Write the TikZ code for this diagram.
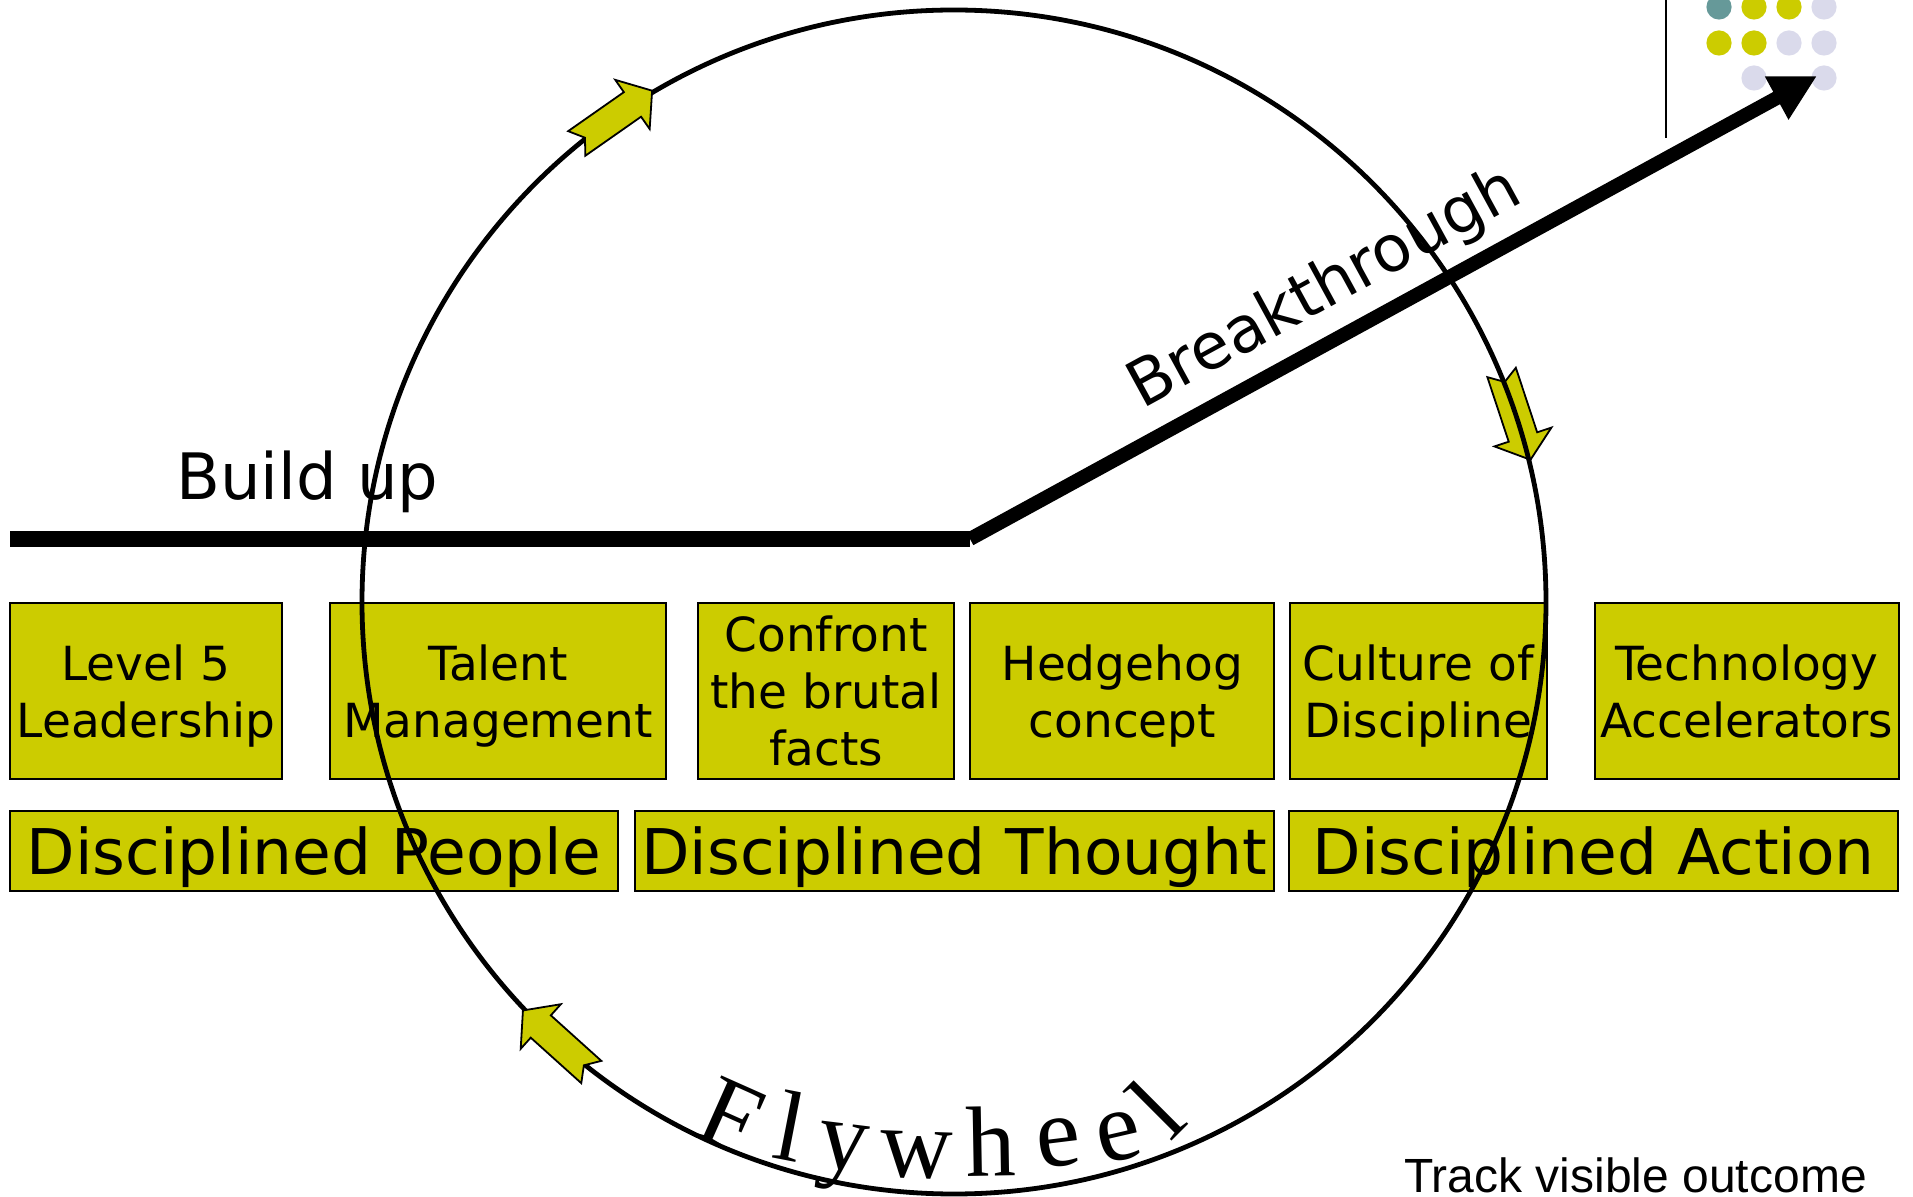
\documentclass[tikz,border=0pt]{standalone}
\usepackage{fontspec}
\setmainfont{DejaVu Sans}
\newfontfamily\wheelfont{Liberation Serif}
\newfontfamily\notefont{Liberation Sans}
\usepackage{tikz}
\usetikzlibrary{positioning,arrows.meta,calc}

\definecolor{olivebox}{RGB}{204,204,0}
\definecolor{tealdot}{RGB}{102,153,153}
\definecolor{lavdot}{RGB}{218,218,235}

\begin{document}
\begin{tikzpicture}[
  x=0.5pt, y=-0.5pt,
  box/.style={draw, fill=olivebox, line width=1pt, inner sep=0pt, outer sep=0pt,
    align=center, text depth=0pt, minimum height=88pt,
    font=\fontsize{23.5pt}{28.5pt}\selectfont},
  bigbox/.style={box, minimum height=40pt, font=\fontsize{31.5pt}{38pt}\selectfont},
  wheelchar/.style={font=\wheelfont\fontsize{50pt}{50pt}\selectfont, inner sep=0pt, anchor=base},
  turnarrow/.pic={
    \draw[fill=olivebox, line width=0.9pt]
      (46,0) -- (22,30) -- (22,15) -- (-46,15) -- (-36,0)
      -- (-46,-15) -- (22,-15) -- (22,-30) -- cycle;
  },
]
\useasboundingbox (0,0) rectangle (1913,1197);

% corner dots and rule
\foreach \x/\y/\c in {1719/7/tealdot, 1754/7/olivebox, 1789/7/olivebox, 1824/7/lavdot,
    1719/43/olivebox, 1754/43/olivebox, 1789/43/lavdot, 1824/43/lavdot,
    1754/78/lavdot, 1824/78/lavdot}
  \fill[\c] (\x,\y) circle (6.3pt);
\draw[line width=1pt] (1666,0) -- (1666,138);

% top row
\node[box, minimum width=136pt, anchor=north west] (lvl5) at (10,603) {Level 5\\Leadership};
\node[box, minimum width=168.4pt, right=23.8pt of lvl5] (talent) {Talent\\Management};
\node[box, minimum width=128.1pt, right=15.85pt of talent] (brutal) {Confront\\the brutal\\facts};
\node[box, minimum width=152pt, right=8pt of brutal] (hedgehog) {Hedgehog\\concept};
\node[box, minimum width=128.5pt, right=7.75pt of hedgehog] (culture) {Culture of\\Discipline};
\node[box, minimum width=152pt, right=24pt of culture] (tech) {Technology\\Accelerators};

% bottom row
\node[bigbox, minimum width=303.75pt, below=16pt of lvl5.south west, anchor=north west] (people) {Disciplined People};
\node[bigbox, minimum width=319.8pt, right=8.5pt of people] (thought) {Disciplined Thought};
\node[bigbox, minimum width=304.65pt, right=7.5pt of thought] (action) {Disciplined Action};

% flywheel
\coordinate (hub) at (954,602);
\pic[rotate=-71.7] at ($(hub)+(18.3:296pt)$) {turnarrow};
\draw[line width=2.4pt] (hub) circle (296pt);
\pic[rotate=35] at ($(hub)+(125:296pt)$) {turnarrow};
\pic[rotate=138] at ($(hub)+(-132.1:296pt)$) {turnarrow};

% build up / breakthrough
\coordinate (start) at (10,539);
\coordinate (bend) at (970,539);
\coordinate (goal) at (1817,76);
\draw[line width=8pt] (start) -- (bend);
\draw[line width=7pt, -{Triangle[length=23pt,width=23pt]}] (bend) -- (goal);

\node[font=\fontsize{32pt}{32pt}\selectfont, inner sep=0pt, anchor=base west] (buildup) at (176,500) {Build up};
\node[font=\fontsize{32pt}{32pt}\selectfont, inner sep=0pt, anchor=base west, rotate=28.6] (breakthrough) at (1142,410) {Breakthrough};

% letters round the rim
\foreach \x/\y/\r/\t [count=\i] in {718/1146/-24/F, 784/1160/-11/l, 840/1170/-7/y, 916/1178/-2/w,
    991/1176/1/h, 1062/1166/7/e, 1124/1160/13/e, 1180/1133/45/l}
  \node[wheelchar, rotate=\r] (fly\i) at (\x,\y) {\t};

\node[font=\notefont\fontsize{24pt}{24pt}\selectfont, inner sep=0pt, anchor=base west] (track) at (1404,1192) {Track visible outcome};
\end{tikzpicture}
\end{document}
